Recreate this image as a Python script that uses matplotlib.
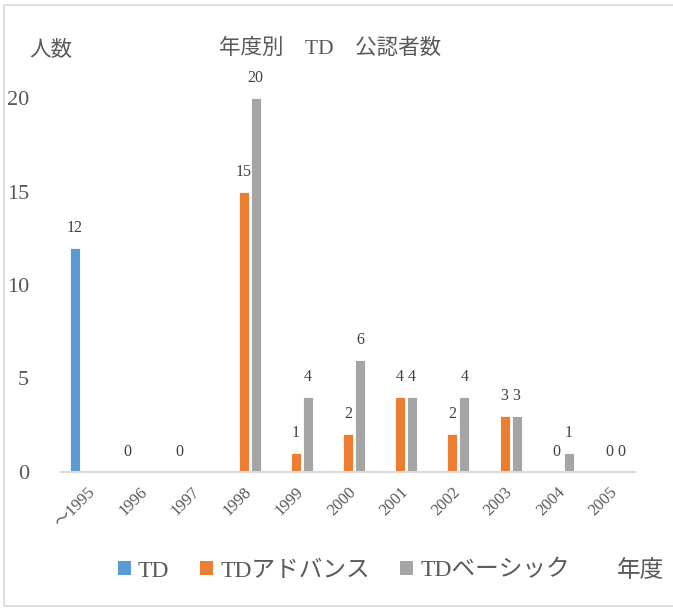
import numpy as np
import matplotlib.pyplot as plt
from matplotlib.patches import Rectangle, Patch

years = ["～1995", "1996", "1997", "1998", "1999", "2000",
         "2001", "2002", "2003", "2004", "2005"]
nan = np.nan
td = [12, 0, 0, nan, nan, nan, nan, nan, nan, nan, nan]
td_advance = [nan, nan, nan, 15, 1, 2, 4, 2, 3, 0, 0]
td_basic = [nan, nan, nan, 20, 4, 6, 4, 4, 3, 1, 0]
series_names = ["TD", "TDアドバンス", "TDベーシック"]
colors = ["#5B9BD5", "#ED7D31", "#A5A5A5"]

plt.rcParams['font.family'] = ['Liberation Serif', 'Noto Sans CJK JP']

fig = plt.figure(figsize=(6.73, 6.09), dpi=100)
ax = fig.add_axes([61 / 673, 137.3 / 609, 574 / 673, 373.4 / 609])

x = np.arange(len(years))
step = 0.23
width = 0.19
for i, (vals, c) in enumerate(zip([td, td_advance, td_basic], colors)):
    xs = x + (i - 1) * step
    ax.bar(xs, vals, width=width, color=c, edgecolor='white', linewidth=0.6)
    for xi, v in zip(xs, vals):
        if np.isnan(v):
            continue
        ax.annotate(f"{int(v)}", (xi, v), xytext=(0, 20), textcoords='offset pixels',
                    ha='center', va='center', fontsize=11.5, color='#404040',
                    annotation_clip=False)

ax.set_xlim(-0.5, len(years) - 0.5)
ax.set_ylim(0, 20)
ax.set_yticks([0, 5, 10, 15, 20])
ax.set_xticks(x)
ax.set_xticklabels(years, rotation=45, ha='right', va='top', rotation_mode='anchor',
                   fontsize=12, color='#595959')
for lab in ax.get_xticklabels():
    lab.set_family(['Liberation Serif', 'Noto Sans CJK JP'])
ax.tick_params(axis='y', length=0, pad=23, labelsize=16, labelcolor='#595959')
ax.tick_params(axis='x', length=0, pad=9)
for s in ['top', 'right', 'left']:
    ax.spines[s].set_visible(False)
ax.spines['bottom'].set_color('#D9D9D9')
ax.spines['bottom'].set_linewidth(1.5)

fig.text(330 / 673, 1 - 49 / 609, "年度別　TD　公認者数", ha='center', va='center',
         fontsize=15.5, color='#595959')
fig.text(29 / 673, 1 - 51 / 609, "人数", ha='left', va='center',
         fontsize=15.5, color='#595959')
fig.text(617 / 673, 1 - 571 / 609, "年度", ha='left', va='center',
         fontsize=17, color='#595959')

handles = [Patch(facecolor=c, edgecolor='none') for c in colors]
fig.legend(handles, series_names, loc='center', bbox_to_anchor=(344 / 673, 1 - 571 / 609),
           ncol=3, frameon=False, fontsize=17, handlelength=0.55, handleheight=0.55,
           handletextpad=0.3, columnspacing=1.3, labelcolor='#595959')

fig.patches.append(Rectangle((4 / 673, 3 / 609), 1.0, 1 - 8 / 609,
                             transform=fig.transFigure, fill=False,
                             edgecolor='#D9D9D9', linewidth=1.2))

fig.savefig("out.png", dpi=100)
